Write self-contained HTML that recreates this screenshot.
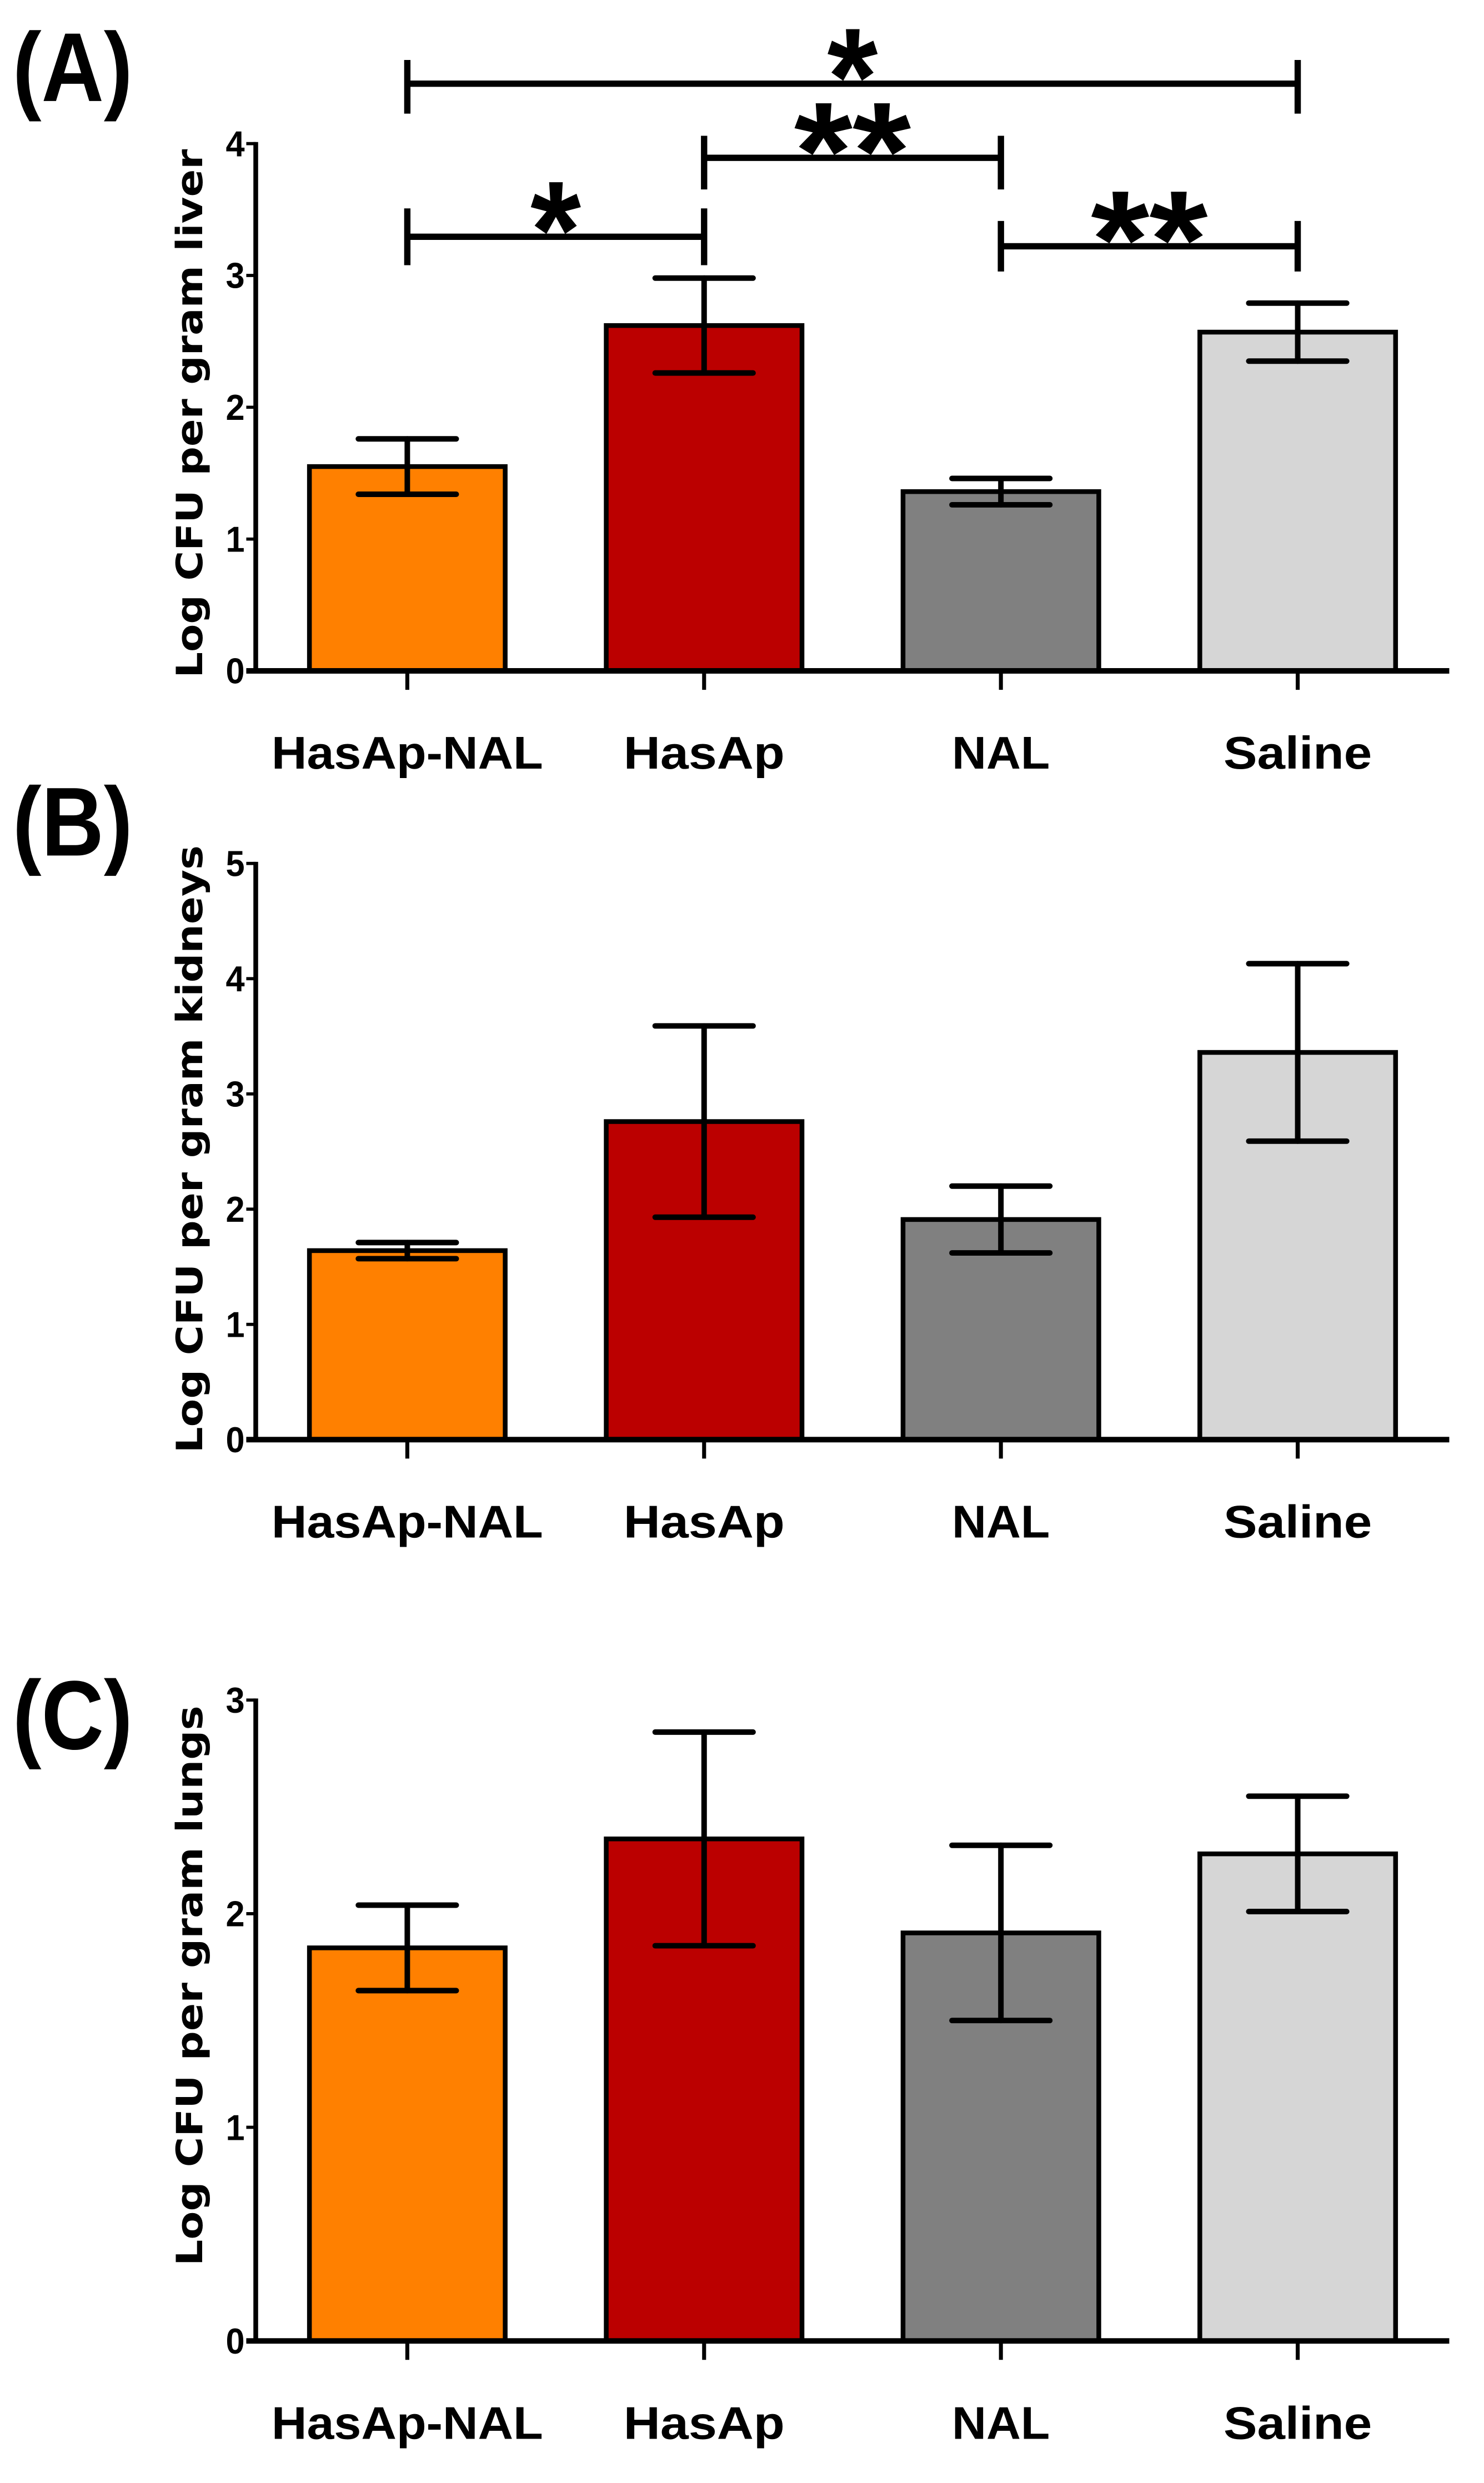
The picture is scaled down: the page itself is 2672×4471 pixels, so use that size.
<!DOCTYPE html>
<html><head><meta charset="utf-8"><style>
html,body{margin:0;padding:0;background:#fff;}
svg{display:block;}
</style></head><body>
<svg id="fig" xmlns="http://www.w3.org/2000/svg" width="2672" height="4471" viewBox="0 0 940 1573" preserveAspectRatio="none"></svg>
<script>
const categories = ["HasAp-NAL", "HasAp", "NAL", "Saline"];
const colors = ["#ff8000", "#bb0000", "#808080", "#d6d6d6"];
const liverMeans = [1.55, 2.62, 1.36, 2.57];
const liverErr = [0.21, 0.36, 0.10, 0.22];
const kidneyMeans = [1.64, 2.76, 1.91, 3.36];
const kidneyErr = [0.07, 0.83, 0.29, 0.77];
const lungMeans = [1.84, 2.35, 1.91, 2.28];
const lungErr = [0.20, 0.50, 0.41, 0.27];
const liverTicks = [0, 1, 2, 3, 4];
const kidneyTicks = [0, 1, 2, 3, 4, 5];
const lungTicks = [0, 1, 2, 3];
const sigFrom = [0, 1, 0, 2];
const sigTo = [3, 2, 1, 3];
const sigLabel = ["*", "**", "*", "**"];

const NS = "http://www.w3.org/2000/svg";
const svg = document.getElementById("fig");
function mk(tag, attrs, parent) {
  const e = document.createElementNS(NS, tag);
  for (const k in attrs) e.setAttribute(k, attrs[k]);
  (parent || svg).appendChild(e);
  return e;
}
const AX = 162, AXEND = 918;
const centers = [258, 446, 634, 822];
const BW = 124;
function xScale(i) { return centers[i]; }

function panel(opts) {
  const g = mk("g", {});
  
  
  const max = opts.ticks[opts.ticks.length - 1];
  const y = v => opts.y0 - (opts.y0 - opts.yTop) * v / max;
  const lt = mk("text", {x: 8, y: opts.letterY, "font-family": "Liberation Sans, sans-serif", "font-weight": "bold", "font-size": 62, textLength: 76, lengthAdjust: "spacingAndGlyphs"}, g);
  lt.textContent = opts.letter;
  
  
  opts.means.forEach((m, i) => {
    const r = mk("rect", {x: xScale(i) - BW / 2, y: y(m), width: BW, height: opts.y0 - y(m), fill: colors[i], stroke: "#000", "stroke-width": 3}, g);
    
    
    const e = opts.err[i];
    const eg = mk("g", {stroke: "#000", "stroke-width": 3.5, "stroke-linecap": "round"}, g);
    
    
    mk("line", {x1: xScale(i), x2: xScale(i), y1: y(m + e), y2: y(m - e)}, eg);
    mk("line", {x1: xScale(i) - 31, x2: xScale(i) + 31, y1: y(m + e), y2: y(m + e)}, eg);
    mk("line", {x1: xScale(i) - 31, x2: xScale(i) + 31, y1: y(m - e), y2: y(m - e)}, eg);
  });
  const ya = mk("line", {x1: AX, x2: AX, y1: opts.yTop - 1, y2: opts.y0 + 1.5, stroke: "#000", "stroke-width": 3}, g);
  
  
  const xa = mk("line", {x1: AX - 6, x2: AXEND, y1: opts.y0, y2: opts.y0, stroke: "#000", "stroke-width": 3.5}, g);
  
  
  opts.ticks.forEach(t => {
    mk("line", {x1: AX - 6, x2: AX, y1: y(t), y2: y(t), stroke: "#000", "stroke-width": 2}, g);
    const tl = mk("text", {x: AX - 7, y: y(t) + 8, "text-anchor": "end", "font-family": "Liberation Sans, sans-serif", "font-weight": "bold", "font-size": 23, textLength: 12, lengthAdjust: "spacingAndGlyphs"}, g);
    tl.textContent = t;
    
    
  });
  const labLen = [172, 102, 62, 94];
  categories.forEach((c, i) => {
    mk("line", {x1: xScale(i), x2: xScale(i), y1: opts.y0, y2: opts.y0 + 12, stroke: "#000", "stroke-width": 2.5}, g);
    const cl = mk("text", {x: xScale(i), y: opts.y0 + 62, "text-anchor": "middle", "font-family": "Liberation Sans, sans-serif", "font-weight": "bold", "font-size": 29, textLength: labLen[i], lengthAdjust: "spacingAndGlyphs"}, g);
    cl.textContent = c;
    
    
  });
  const yt = mk("text", {x: 0, y: 0, "text-anchor": "middle", "font-family": "DejaVu Sans, sans-serif", "font-weight": "bold", "font-size": 23, transform: "translate(128," + opts.titleCY + ") rotate(-90)", textLength: opts.titleLen, lengthAdjust: "spacingAndGlyphs"}, g);
  yt.textContent = opts.title;
  
  
  return g;
}

panel({name: "panel-a-liver", letter: "(A)", letterY: 64, y0: 425, yTop: 91, ticks: liverTicks, means: liverMeans, err: liverErr, title: "Log CFU per gram liver", titleCY: 262, titleLen: 335});
panel({name: "panel-b-kidneys", letter: "(B)", letterY: 542, y0: 912, yTop: 547, ticks: kidneyTicks, means: kidneyMeans, err: kidneyErr, title: "Log CFU per gram kidneys", titleCY: 728, titleLen: 385});
panel({name: "panel-c-lungs", letter: "(C)", letterY: 1108, y0: 1483, yTop: 1077, ticks: lungTicks, means: lungMeans, err: lungErr, title: "Log CFU per gram lungs", titleCY: 1258, titleLen: 355});

const sigY = [53, 100, 150, 156];
const sigTopV = [38, 86, 132, 140];
const sigBotV = [72, 120, 168, 172];
sigFrom.forEach((f, k) => {
  const g = mk("g", {stroke: "#000", "stroke-width": 4});
  
  
  const x1 = xScale(f), x2 = xScale(sigTo[k]);
  mk("line", {x1: x1, x2: x2, y1: sigY[k], y2: sigY[k]}, g);
  mk("line", {x1: x1, x2: x1, y1: sigTopV[k], y2: sigBotV[k]}, g);
  mk("line", {x1: x2, x2: x2, y1: sigTopV[k], y2: sigBotV[k]}, g);
  const t = mk("text", {x: (x1 + x2) / 2, y: sigY[k] + 26, "text-anchor": "middle", "font-family": "Liberation Sans, sans-serif", "font-weight": "bold", "font-size": 88, stroke: "none", textLength: sigLabel[k].length === 1 ? 32 : 74, lengthAdjust: "spacingAndGlyphs"});
  t.textContent = sigLabel[k];
  
  
});
</script>
</body></html>
